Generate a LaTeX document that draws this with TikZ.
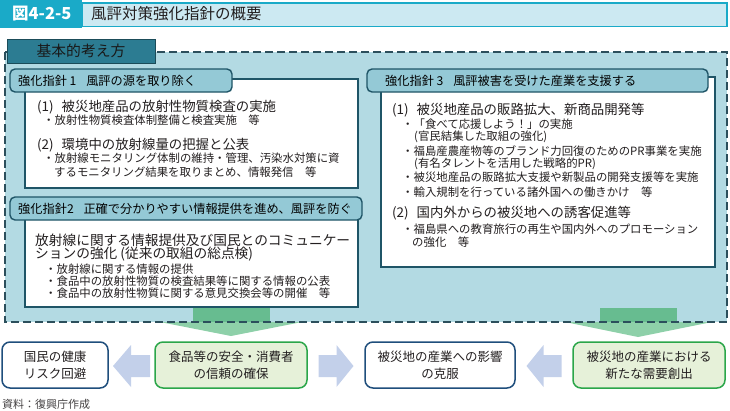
\documentclass[tikz,border=0pt]{standalone}
\usepackage{fontspec}
\setmainfont{Noto Sans CJK JP}
\usetikzlibrary{calc}
\definecolor{headc}{HTML}{1AAAC8}
\definecolor{headlight}{HTML}{CCE9F2}
\definecolor{tabdark}{HTML}{2C7C92}
\definecolor{tabdarkline}{HTML}{1B4C59}
\definecolor{bluearea}{HTML}{B3DAE3}
\definecolor{dashc}{HTML}{2C4F5C}
\definecolor{guidefill}{HTML}{94C9D6}
\definecolor{guideline}{HTML}{1F5567}
\definecolor{gdark}{HTML}{67BC90}
\definecolor{glight}{HTML}{8ED0A9}
\definecolor{gfill}{HTML}{E6F1D9}
\definecolor{gline}{HTML}{2BA64A}
\definecolor{navy}{HTML}{1F4E7C}
\definecolor{arrowc}{HTML}{C3D0EA}
\definecolor{txtc}{HTML}{231F20}
\tikzset{
  lt/.style={anchor=west, inner sep=0pt, text=txtc, font=\fontsize{13.4}{16}\selectfont},
  ltb/.style={anchor=west, inner sep=0pt, text=txtc, font=\fontsize{13.7}{16}\selectfont},
  st/.style={anchor=west, inner sep=0pt, text=txtc, font=\fontsize{11.4}{13}\selectfont},
  guidetab/.style={draw=guideline, fill=guidefill, line width=1.4pt, rounded corners=5pt},
  guidebody/.style={draw=guideline, fill=white, line width=1.4pt},
  tabtxt/.style={anchor=west, inner sep=0pt, text=black, font=\fontsize{12.2}{14}\selectfont},
  resw/.style={draw=navy, fill=white, line width=1.5pt, rounded corners=8pt, align=center, text=txtc, font=\fontsize{12.5}{17}\selectfont, inner sep=0pt},
  resg/.style={draw=gline, fill=gfill, line width=1.5pt, rounded corners=8pt, align=center, text=txtc, font=\fontsize{12.5}{17}\selectfont, inner sep=0pt},
  blockarrow/.style={fill=arrowc, draw=none},
}
\begin{document}
\begin{tikzpicture}[x=1pt,y=-1pt]
\useasboundingbox (0,0) rectangle (730,410);
% header
\fill[headc] (0,0) rectangle (82,28);
\draw[draw=headc, fill=headlight, line width=1.2pt] (82,3) rectangle (727,26.5);
\node[anchor=west, inner sep=0pt, text=white, font=\bfseries\fontsize{16.5}{18}\selectfont] (fig) at (12,14) {図4-2-5};
\node[anchor=west, inner sep=0pt, text=txtc, font=\fontsize{15.5}{17}\selectfont] (title) at (91,14) {風評対策強化指針の概要};
% basic area
\fill[bluearea] (5,52) rectangle (727,322);
% green connectors
\fill[gdark] (193,307) rectangle (270,322);
\fill[glight] (160,322) -- (302,322) -- (231,336) -- cycle;
\fill[gdark] (600,308) rectangle (677,322);
\fill[glight] (565,322) -- (712,322) -- (638,337) -- cycle;
\draw[dashc, line width=1.5pt, dash pattern=on 8pt off 4pt] (5,52) rectangle (727,322);
\draw[fill=tabdark, draw=tabdarkline, line width=1pt] (7,39) rectangle (155,63);
\node[inner sep=0pt, text=black!90, font=\fontsize{14.8}{16}\selectfont] (basic) at (81,51) {基本的考え方};
% guide 1
\draw[guidebody] (25,79) rectangle (358,188);
\draw[guidetab] (10,69) rectangle (232,92);
\node[tabtxt] (g1) at (18,80.5) {強化指針 1\hspace{0.8em}風評の源を取り除く};
\node[lt] (g1a) at (37,107) {(1)\hspace{0.6em}被災地産品の放射性物質検査の実施};
\node[st] (g1b) at (43,120) {・放射性物質検査体制整備と検査実施\hspace{1em}等};
\node[lt] (g1c) at (37,145) {(2)\hspace{0.6em}環境中の放射線量の把握と公表};
\node[st] (g1d) at (43,158) {・放射線モニタリング体制の維持・管理、汚染水対策に資};
\node[st] (g1e) at (54,172) {するモニタリング結果を取りまとめ、情報発信\hspace{1em}等};
% guide 2
\draw[guidebody] (25,207) rectangle (358,307);
\draw[guidetab] (10,197) rectangle (362,220);
\node[tabtxt] (g2) at (18,208.5) {強化指針2\hspace{0.8em}正確で分かりやすい情報提供を進め、風評を防ぐ};
\node[ltb] (g2a) at (35,240) {放射線に関する情報提供及び国民とのコミュニケー};
\node[ltb] (g2b) at (35,254) {ションの強化 (従来の取組の総点検)};
\node[st] (g2c) at (45,269) {・放射線に関する情報の提供};
\node[st] (g2d) at (45,281) {・食品中の放射性物質の検査結果等に関する情報の公表};
\node[st] (g2e) at (45,293) {・食品中の放射性物質に関する意見交換会等の開催\hspace{1em}等};
% guide 3
\draw[guidebody] (381,77) rectangle (715,267);
\draw[guidetab] (367,69) rectangle (708,92);
\node[tabtxt] (g3) at (385,80.5) {強化指針 3\hspace{0.8em}風評被害を受けた産業を支援する};
\node[lt] (g3a) at (392,110) {(1)\hspace{0.6em}被災地産品の販路拡大、新商品開発等};
\node[st] (g3b) at (402,124) {・「食べて応援しよう！」の実施};
\node[st] (g3c) at (414,137) {(官民結集した取組の強化)};
\node[st] (g3d) at (402,151) {・福島産農産物等のブランド力回復のためのPR事業を実施};
\node[st] (g3e) at (414,164) {(有名タレントを活用した戦略的PR)};
\node[st] (g3f) at (402,177) {・被災地産品の販路拡大支援や新製品の開発支援等を実施};
\node[st] (g3g) at (402,192) {・輸入規制を行っている諸外国への働きかけ\hspace{1em}等};
\node[lt] (g3h) at (392,213) {(2)\hspace{0.6em}国内外からの被災地への誘客促進等};
\node[st] (g3i) at (402,229) {・福島県への教育旅行の再生や国内外へのプロモーション};
\node[st] (g3j) at (412,242) {の強化\hspace{1em}等};
% result boxes
\node[resw, minimum width=106pt, minimum height=46pt] (ra) at (55,365) {国民の健康\\リスク回避};
\node[resg, minimum width=152pt, minimum height=46pt] (rb) at (231,365) {食品等の安全・消費者\\の信頼の確保};
\node[resw, minimum width=150pt, minimum height=46pt] (rc) at (440,365) {被災地の産業への影響\\の克服};
\node[resg, minimum width=152pt, minimum height=46pt] (rd) at (649,365) {被災地の産業における\\新たな需要創出};
% block arrows
\coordinate (a1) at ($(ra.east)!0.5!(rb.west)+(0,1)$);
\coordinate (a2) at ($(rb.east)!0.5!(rc.west)+(0,1)$);
\coordinate (a3) at ($(rc.east)!0.5!(rd.west)+(0,1)$);
\fill[blockarrow] ($(a1)+(-18.5,0)$) -- ++(18,-21) -- ++(0,10) -- ++(19,0) -- ++(0,22) -- ++(-19,0) -- ++(0,10) -- cycle;
\fill[blockarrow] ($(a2)+(17.5,0)$) -- ++(-17,-21) -- ++(0,10) -- ++(-18,0) -- ++(0,22) -- ++(18,0) -- ++(0,10) -- cycle;
\fill[blockarrow] ($(a3)+(-17.5,0)$) -- ++(17,-21) -- ++(0,10) -- ++(18,0) -- ++(0,22) -- ++(-18,0) -- ++(0,10) -- cycle;
% footer
\node[anchor=west, inner sep=0pt, text=txtc!85, font=\fontsize{11}{13}\selectfont] (src) at (2,404) {資料：復興庁作成};
\end{tikzpicture}
\end{document}
